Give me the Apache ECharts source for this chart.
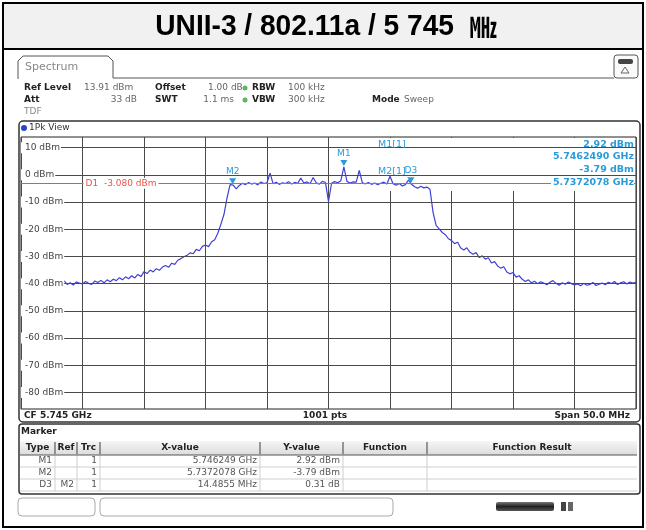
<!DOCTYPE html>
<html>
<head>
<meta charset="utf-8">
<script src="https://cdn.jsdelivr.net/npm/echarts@6/dist/echarts.min.js"></script>
<style>
  html, body { margin: 0; padding: 0; background: #ffffff; }
  #chart { width: 646px; height: 530px; }
</style>
</head>
<body>
<div id="chart"></div>
<script>
// Sweep settings: CF 5.745 GHz, span 50 MHz
const sweepStartMHz = 5720;
const sweepStopMHz = 5770;
const sweepStepMHz = 0.25;
const refLevelDbm = 13.91;
const rangeDb = 100;

// 1Pk trace levels (dBm), one per sweep step from 5720.00 MHz
const traceLevelsDbm = [
  -39.2, -40.1, -39.6, -38.9, -40.4, -39.8, -39.1, -40.6, -39.5, -39.9, -40.2, -39.3, -40.7, -39.6, -39.0, -40.3, -39.7, -40.5, -39.4, -39.8,
  -40.1, -39.2, -39.9, -40.3, -39.0, -39.6, -38.8, -39.7, -38.6, -39.3, -38.4, -38.9, -37.8, -38.6, -37.5, -38.2, -37.1, -37.9, -36.6, -37.4,
  -35.6, -36.3, -35.0, -35.7, -34.5, -35.1, -33.9, -33.3, -34.0, -32.5, -32.9, -31.4, -30.8, -30.1, -29.6, -28.7, -29.0, -27.4, -27.9, -26.3,
  -25.8, -26.4, -24.6, -23.9, -21.5, -18.2, -14.6, -8.5, -3.6, -3.79, -5.2, -3.9, -3.1, -3.6, -2.8, -3.4, -3.0, -3.7, -2.6, -3.2,
  -2.9, 0.6, -3.3, -2.7, -3.5, -2.9, -3.2, -2.5, -3.4, -2.8, -3.1, -1.2, -3.0, -2.6, -3.3, -1.0, -2.9, -3.4, -2.4, -2.8,
  -9.8, -3.1, -2.5, -2.9, -2.2, 2.92, -2.4, -3.0, -2.6, -2.7, 1.6, -2.9, -3.3, -2.8, -3.5, -3.0, -3.6, -3.1, -2.7, -3.4,
  -0.5, -3.3, -3.8, -3.2, -4.1, -3.6, -1.9, -3.48, -4.4, -4.9, -4.2, -4.8, -4.5, -5.3, -13.8, -18.6, -19.9, -21.2, -22.0, -23.5,
  -24.1, -25.3, -24.8, -26.9, -27.6, -26.8, -28.5, -29.2, -28.6, -30.4, -29.8, -31.0, -30.5, -32.4, -31.9, -33.5, -34.3, -33.8, -35.7, -36.4,
  -35.9, -37.6, -37.1, -38.4, -39.2, -38.6, -39.7, -39.1, -40.0, -39.3, -39.8, -40.4, -39.5, -38.9, -39.9, -40.6, -39.7, -40.2, -39.4, -40.0,
  -40.5, -40.1, -40.8, -39.9, -40.6, -40.3, -39.6, -40.7, -40.2, -39.8, -40.4, -39.5, -40.0, -39.2, -40.3, -39.7, -39.3, -40.1, -39.4, -39.8,
  -39.5
];

// Level grid and its labels
const levelTicksDbm = [10, 0, -10, -20, -30, -40, -50, -60, -70, -80];
const levelTickLabels = ['10 dBm', '0 dBm', '-10 dBm', '-20 dBm', '-30 dBm', '-40 dBm', '-50 dBm', '-60 dBm', '-70 dBm', '-80 dBm'];

// Display line D1
const d1LevelDbm = -3.08;
const d1Label = 'D1  -3.080 dBm';

// Markers
const markerNames = ['M1', 'M2', 'D3'];
const markerRefs = ['', '', 'M2'];
const markerTrc = ['1', '1', '1'];
const markerFreqMHz = [5746.249, 5737.2078, 5737.2078 + 14.4855];
const markerLevelDbm = [2.92, -3.79, -3.79 + 0.31];
const markerXText = ['5.746249 GHz', '5.7372078 GHz', '14.4855 MHz'];
const markerYText = ['2.92 dBm', '-3.79 dBm', '0.31 dB'];

const traceData = traceLevelsDbm.map((v, i) => [sweepStartMHz + i * sweepStepMHz, v]);

const FONT = 'DejaVu Sans';
const BLUE = '#2b9bd8';
const chart = echarts.init(document.getElementById('chart'), null, { renderer: 'canvas' });

function txt(x, y, s, opt) {
  opt = opt || {};
  return {
    type: 'text', x: x, y: y, z: opt.z || 20, silent: true,
    style: {
      text: s, fill: opt.color || '#333',
      font: (opt.weight || 'normal') + ' ' + (opt.size || 9) + 'px ' + (opt.family || FONT),
      align: opt.align || 'left', verticalAlign: 'middle',
      backgroundColor: opt.bg, padding: opt.pad
    }
  };
}
function rect(x, y, w, h, opt) {
  opt = opt || {};
  return {
    type: 'rect', z: opt.z || 5, silent: true,
    shape: { x: x, y: y, width: w, height: h, r: opt.r || 0 },
    style: { fill: opt.fill || 'none', stroke: opt.stroke || null, lineWidth: opt.lw || 1 }
  };
}
function line(x1, y1, x2, y2, opt) {
  opt = opt || {};
  return {
    type: 'line', z: opt.z || 6, silent: true,
    shape: { x1: x1, y1: y1, x2: x2, y2: y2 },
    style: { stroke: opt.stroke || '#333', lineWidth: opt.lw || 1 }
  };
}

const g = [];
// outer frame and title band
g.push(rect(3, 3, 640, 46, { fill: '#f1f1f1', z: 1 }));
g.push(rect(3, 3, 640, 524, { stroke: '#000', lw: 2, z: 30 }));
g.push(line(3, 49, 643, 49, { stroke: '#000', lw: 2, z: 30 }));
g.push({
  type: 'text', x: 326, y: 27, z: 20, silent: true, scaleX: 0.97, originX: 0, originY: 0,
  style: {
    text: '{a|UNII-3 / 802.11a / 5 745  }{b|㎒}', align: 'center', verticalAlign: 'middle',
    rich: {
      a: { font: 'bold 29px "Liberation Sans"', fill: '#000' },
      b: { font: 'bold 28px "Noto Sans CJK KR"', fill: '#000' }
    }
  }
});

// Spectrum tab
g.push({
  type: 'polyline', z: 6, silent: true,
  shape: { points: [[18, 79], [18, 61], [23, 56], [108, 56], [113, 61], [113, 78], [614, 78]] },
  style: { stroke: '#555', lineWidth: 1, fill: 'none' }
});
g.push(txt(25, 67, 'Spectrum', { color: '#888', size: 11 }));
g.push(rect(614, 55, 24, 23, { stroke: '#555', r: 3, fill: '#fafafa' }));
g.push(rect(618, 59, 15, 5, { fill: '#444', r: 2, z: 7 }));
g.push({ type: 'polygon', z: 7, silent: true, shape: { points: [[625, 67], [621, 73], [629, 73]] }, style: { fill: 'none', stroke: '#666', lineWidth: 1 } });

// Setting rows
g.push(txt(24, 88, 'Ref Level', { weight: 'bold', color: '#222' }));
g.push(txt(84, 88, '13.91 dBm', { color: '#666' }));
g.push(txt(155, 88, 'Offset', { weight: 'bold', color: '#222' }));
g.push(txt(208, 88, '1.00 dB', { color: '#666' }));
g.push({ type: 'circle', z: 7, silent: true, shape: { cx: 245, cy: 88, r: 2.5 }, style: { fill: '#5cb85c' } });
g.push(txt(252, 88, 'RBW', { weight: 'bold', color: '#222' }));
g.push(txt(288, 88, '100 kHz', { color: '#666' }));
g.push(txt(24, 100, 'Att', { weight: 'bold', color: '#222' }));
g.push(txt(137, 100, '33 dB', { color: '#666', align: 'right' }));
g.push(txt(155, 100, 'SWT', { weight: 'bold', color: '#222' }));
g.push(txt(234, 100, '1.1 ms', { color: '#666', align: 'right' }));
g.push({ type: 'circle', z: 7, silent: true, shape: { cx: 245, cy: 100, r: 2.5 }, style: { fill: '#5cb85c' } });
g.push(txt(252, 100, 'VBW', { weight: 'bold', color: '#222' }));
g.push(txt(288, 100, '300 kHz', { color: '#666' }));
g.push(txt(372, 100, 'Mode', { weight: 'bold', color: '#222' }));
g.push(txt(404, 100, 'Sweep', { color: '#666' }));
g.push(txt(24, 112, 'TDF', { color: '#888' }));

// Diagram panel
g.push(rect(19, 121, 621, 301, { stroke: '#333', lw: 1.5, r: 4, z: 6 }));
g.push({ type: 'circle', z: 7, silent: true, shape: { cx: 24, cy: 128, r: 3 }, style: { fill: '#2846c8' } });
g.push(txt(29, 128, '1Pk View', { color: '#333' }));
g.push(txt(24, 416, 'CF 5.745 GHz', { weight: 'bold', color: '#222' }));
g.push(txt(325, 416, '1001 pts', { weight: 'bold', color: '#222', align: 'center' }));
g.push(txt(630, 416, 'Span 50.0 MHz', { weight: 'bold', color: '#222', align: 'right' }));

// Marker info texts in the diagram
g.push(txt(378, 145, 'M1[1]', { color: BLUE, size: 9.5 }));
g.push(txt(378, 172, 'M2[1]', { color: BLUE, size: 9.5 }));
g.push(txt(634, 145, '2.92 dBm', { color: BLUE, size: 9.5, weight: 'bold', align: 'right' }));
g.push(txt(634, 157, '5.7462490 GHz', { color: BLUE, size: 9.5, weight: 'bold', align: 'right' }));
g.push(txt(634, 170, '-3.79 dBm', { color: BLUE, size: 9.5, weight: 'bold', align: 'right' }));
g.push(txt(634, 183, '5.7372078 GHz', { color: BLUE, size: 9.5, weight: 'bold', align: 'right', bg: '#fff', pad: [0, 0, 0, 2] }));

// Marker table
g.push(rect(19, 424, 621, 70, { stroke: '#333', lw: 1.5, r: 3, z: 6 }));
g.push(txt(21, 432, 'Marker', { weight: 'bold', color: '#222' }));
const colEdges = [20, 55, 77, 100, 260, 343, 427, 637];
const colHeads = ['Type', 'Ref', 'Trc', 'X-value', 'Y-value', 'Function', 'Function Result'];
g.push({
  type: 'rect', z: 5, silent: true, shape: { x: 20, y: 441, width: 617, height: 14 },
  style: { fill: new echarts.graphic.LinearGradient(0, 0, 0, 1, [{ offset: 0, color: '#f6f6f6' }, { offset: 1, color: '#dcdcdc' }]) }
});
colHeads.forEach((h, i) => {
  g.push(txt((colEdges[i] + colEdges[i + 1]) / 2, 448, h, { weight: 'bold', color: '#222' }));
  g[g.length - 1].style.align = 'center';
});
const rowTop = [455, 467, 479];
rowTop.forEach(y => g.push(line(20, y + 12, 637, y + 12, { stroke: '#cfcfcf' })));
colEdges.slice(1, -1).forEach(x => {
  g.push(line(x, 442, x, 454, { stroke: '#777', lw: 1.5 }));
  g.push(line(x, 455, x, 491, { stroke: '#cfcfcf' }));
});
g.push(line(20, 455, 637, 455, { stroke: '#555' }));
markerNames.forEach((m, r) => {
  const cy = rowTop[r] + 6;
  const cells = [m, markerRefs[r], markerTrc[r], markerXText[r], markerYText[r]];
  cells.forEach((c, i) => {
    if (c) g.push(txt(colEdges[i + 1] - 3, cy, c, { color: '#555', align: 'right' }));
  });
});

// Status bar
g.push(rect(18, 498, 77, 18, { stroke: '#aaa', r: 4 }));
g.push(rect(100, 498, 293, 18, { stroke: '#aaa', r: 4 }));
g.push({
  type: 'rect', z: 5, silent: true, shape: { x: 496, y: 502, width: 58, height: 9, r: 2 },
  style: { fill: new echarts.graphic.LinearGradient(0, 0, 0, 1, [{ offset: 0, color: '#777' }, { offset: 0.5, color: '#222' }, { offset: 1, color: '#555' }]) }
});
g.push(rect(561, 502, 5, 9, { fill: '#444' }));
g.push(rect(568, 502, 5, 9, { fill: '#666' }));

const option = {
  animation: false,
  backgroundColor: '#ffffff',
  grid: { left: 21, right: 10, top: 137, bottom: 121, show: true, borderColor: '#222', borderWidth: 1, backgroundColor: 'transparent' },
  xAxis: {
    type: 'value', min: sweepStartMHz, max: sweepStopMHz, interval: 5, z: 0,
    axisLine: { show: false }, axisTick: { show: false }, axisLabel: { show: false },
    splitLine: { show: true, lineStyle: { color: '#4a4a4a', width: 1 } }
  },
  yAxis: {
    type: 'value', min: refLevelDbm - rangeDb, max: refLevelDbm, z: 0,
    axisLine: { show: false }, axisTick: { show: false }, axisLabel: { show: false },
    splitLine: { show: false }
  },
  graphic: { elements: g },
  series: [
    {
      // level grid with its in-diagram labels
      type: 'line', data: [], z: 0, silent: true,
      markLine: {
        silent: true, symbol: 'none', animation: false,
        label: { show: false },
        lineStyle: { color: '#4a4a4a', width: 1, type: 'solid' },
        data: levelTicksDbm.map(v => ({ yAxis: v }))
      },
      markPoint: {
        silent: true, animation: false, symbol: 'rect', symbolSize: 0,
        data: levelTicksDbm.map((v, i) => ({
          coord: [sweepStartMHz, v],
          label: {
            show: true, position: 'right', distance: 0, formatter: levelTickLabels[i],
            color: '#444', fontSize: 9, fontFamily: FONT,
            backgroundColor: '#fff', padding: [1, 1, 1, 4]
          }
        }))
      },
      // white block holding the marker readout
      markArea: {
        silent: true, animation: false,
        itemStyle: { color: '#ffffff', opacity: 1 },
        label: { show: false },
        data: [[{ x: 377, y: 138 }, { x: 635, y: 191 }]]
      }
    },
    {
      type: 'line', data: traceData, z: 3, silent: true,
      showSymbol: false, symbol: 'none',
      lineStyle: { color: '#4040d6', width: 1.2 },
      markLine: {
        silent: true, symbol: 'none', animation: false,
        label: { show: false },
        lineStyle: { color: '#e8544a', width: 1, type: 'solid' },
        data: [{ yAxis: d1LevelDbm }]
      },
      markPoint: {
        silent: true, animation: false,
        data: [
          {
            coord: [sweepStartMHz + 5, d1LevelDbm], symbol: 'rect', symbolSize: 0,
            label: { show: true, position: 'right', distance: 1, formatter: d1Label, color: '#e8544a', fontSize: 9, fontFamily: FONT, backgroundColor: '#fff', padding: [1, 2, 1, 2] }
          }
        ].concat(markerNames.map((m, i) => ({
          coord: [markerFreqMHz[i], markerLevelDbm[i]],
          symbol: 'triangle', symbolRotate: 180, symbolSize: [7, 6], symbolOffset: [0, -4],
          itemStyle: { color: BLUE },
          label: { show: true, position: 'top', distance: 2, formatter: m, color: BLUE, fontSize: 9, fontFamily: FONT }
        })))
      }
    }
  ]
};
chart.setOption(option);
</script>
</body>
</html>
